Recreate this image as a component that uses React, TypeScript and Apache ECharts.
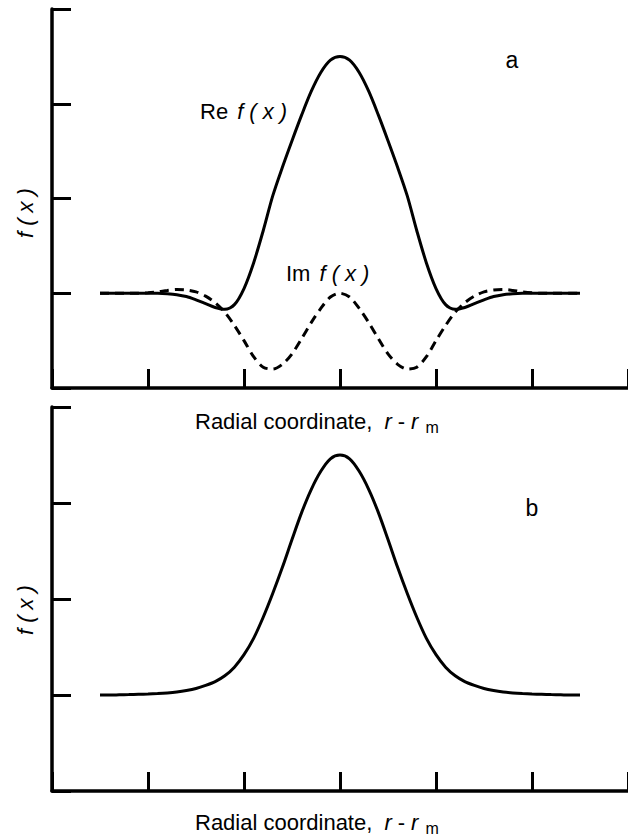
import React, { useEffect, useRef } from "react";
import * as echarts from "echarts";

const xs = [-2.5, -2.4, -2.3, -2.2, -2.1, -2.0, -1.9, -1.8, -1.7, -1.6, -1.5, -1.4, -1.3, -1.2, -1.1, -1.0, -0.9, -0.8, -0.7, -0.6, -0.5, -0.4, -0.3, -0.2, -0.1, 0,
  0.1, 0.2, 0.3, 0.4, 0.5, 0.6, 0.7, 0.8, 0.9, 1.0, 1.1, 1.2, 1.3, 1.4, 1.5, 1.6, 1.7, 1.8, 1.9, 2.0, 2.1, 2.2, 2.3, 2.4, 2.5];

const reValues = [0, 0, 0, 0, 0, 0, 0, -0.005, -0.015, -0.035, -0.07, -0.11, -0.15, -0.17, -0.12, 0.05, 0.32, 0.66, 1.03, 1.33, 1.61, 1.88, 2.13, 2.33, 2.46, 2.5,
  2.46, 2.33, 2.13, 1.88, 1.61, 1.33, 1.03, 0.66, 0.32, 0.05, -0.12, -0.17, -0.15, -0.11, -0.07, -0.035, -0.015, -0.005, 0, 0, 0, 0, 0, 0, 0];

const imValues = [0, 0, 0, 0, 0, 0.005, 0.015, 0.03, 0.04, 0.035, 0.015, -0.03, -0.1, -0.2, -0.34, -0.5, -0.67, -0.78, -0.8, -0.75, -0.64, -0.48, -0.31, -0.16, -0.04, 0,
  -0.04, -0.16, -0.31, -0.48, -0.64, -0.75, -0.8, -0.78, -0.67, -0.5, -0.34, -0.2, -0.1, -0.03, 0.015, 0.035, 0.04, 0.03, 0.015, 0.005, 0, 0, 0, 0, 0];

const bValues = [0, 0, 0.002, 0.004, 0.007, 0.01, 0.015, 0.022, 0.032, 0.047, 0.068, 0.1, 0.14, 0.2, 0.29, 0.42, 0.59, 0.81, 1.06, 1.33, 1.62, 1.9, 2.14, 2.33, 2.46, 2.5,
  2.46, 2.33, 2.14, 1.9, 1.62, 1.33, 1.06, 0.81, 0.59, 0.42, 0.29, 0.2, 0.14, 0.1, 0.068, 0.047, 0.032, 0.022, 0.015, 0.01, 0.007, 0.004, 0.002, 0, 0];

const xMin = -3;
const xMax = 3;
const yMin = -1;
const yMax = 3;

const FONT = "Liberation Sans, Arial, sans-serif";

const pairs = (vals: number[]) => xs.map((x, i) => [x, vals[i]]);

const richStyles = {
  n: { fontSize: 22, fontFamily: FONT, fill: "#000" },
  i: { fontSize: 22, fontFamily: FONT, fontStyle: "italic", fill: "#000", padding: [0, 3, 0, 3] },
  r1: { fontSize: 22, fontFamily: FONT, fontStyle: "italic", fill: "#000", padding: [0, 3, 0, 6] },
  r2: { fontSize: 22, fontFamily: FONT, fontStyle: "italic", fill: "#000", padding: [0, 3, 0, 3] },
  d: { fontSize: 22, fontFamily: FONT, fill: "#000", padding: [0, 3, 0, 3] },
  s: { fontSize: 16, fontFamily: FONT, fill: "#000", padding: [12, 0, 0, 4] },
};

const axisCommon = (gridIndex: number) => ({
  gridIndex,
  min: xMin,
  max: xMax,
  interval: 1,
  axisLine: { show: true, onZero: false, lineStyle: { color: "#000", width: 3.5 } },
  axisTick: { show: true, inside: true, length: 19, lineStyle: { color: "#000", width: 3 } },
  axisLabel: { show: false },
  splitLine: { show: false },
});

const yCommon = (gridIndex: number) => ({
  gridIndex,
  type: "value" as const,
  min: yMin,
  max: yMax,
  interval: 1,
  axisLine: { show: true, onZero: false, lineStyle: { color: "#000", width: 3.5 } },
  axisTick: { show: true, inside: true, length: 19, lineStyle: { color: "#000", width: 3 } },
  axisLabel: { show: false },
  splitLine: { show: false },
});

export default function App() {
  const ref = useRef<HTMLDivElement>(null);
  useEffect(() => {
    if (!ref.current) return;
    const chart = echarts.init(ref.current, null, { renderer: "svg" });
    const fx = "{i|f}{i|(}{i|x}{i|)}";
    const xTitle = "{n|Radial coordinate, }{r1|r}{d|-}{r2|r}{s|m}";
    chart.setOption({
      animation: false,
      backgroundColor: "#fff",
      grid: [
        { left: 52, right: 0, top: 9, height: 379 },
        { left: 52, right: 0, top: 407, height: 384 },
      ],
      xAxis: [
        { type: "value", ...axisCommon(0) },
        { type: "value", ...axisCommon(1) },
      ],
      yAxis: [yCommon(0), yCommon(1)],
      series: [
        {
          type: "line",
          xAxisIndex: 0,
          yAxisIndex: 0,
          data: pairs(imValues),
          showSymbol: false,
          smooth: 0.3,
          lineStyle: { color: "#000", width: 3, type: [9, 6] },
          z: 2,
        },
        {
          type: "line",
          xAxisIndex: 0,
          yAxisIndex: 0,
          data: pairs(reValues),
          showSymbol: false,
          smooth: 0.3,
          lineStyle: { color: "#000", width: 3 },
          z: 3,
        },
        {
          type: "line",
          xAxisIndex: 1,
          yAxisIndex: 1,
          data: pairs(bValues),
          showSymbol: false,
          smooth: 0.3,
          lineStyle: { color: "#000", width: 3 },
        },
      ],
      graphic: [
        {
          type: "text",
          x: 25,
          y: 213,
          rotation: Math.PI / 2,
          style: { text: fx, rich: richStyles, align: "center", verticalAlign: "middle" },
        },
        {
          type: "text",
          x: 25,
          y: 610,
          rotation: Math.PI / 2,
          style: { text: fx, rich: richStyles, align: "center", verticalAlign: "middle" },
        },
        {
          type: "text",
          x: 195,
          y: 421,
          style: { text: xTitle, rich: richStyles, align: "left", verticalAlign: "middle" },
        },
        {
          type: "text",
          x: 195,
          y: 822,
          style: { text: xTitle, rich: richStyles, align: "left", verticalAlign: "middle" },
        },
        {
          type: "text",
          x: 200,
          y: 111,
          style: { text: "{n|Re }" + fx, rich: richStyles, align: "left", verticalAlign: "middle" },
        },
        {
          type: "text",
          x: 286,
          y: 273,
          style: { text: "{n|Im }" + fx, rich: richStyles, align: "left", verticalAlign: "middle" },
        },
        {
          type: "text",
          x: 512,
          y: 60,
          style: { text: "a", font: "23px " + FONT, fill: "#000", align: "center", verticalAlign: "middle" },
        },
        {
          type: "text",
          x: 532,
          y: 508,
          style: { text: "b", font: "23px " + FONT, fill: "#000", align: "center", verticalAlign: "middle" },
        },
      ],
    });
    return () => chart.dispose();
  }, []);
  return <div ref={ref} style={{ position: "absolute", left: 0, top: 0, width: 628, height: 839 }} />;
}
